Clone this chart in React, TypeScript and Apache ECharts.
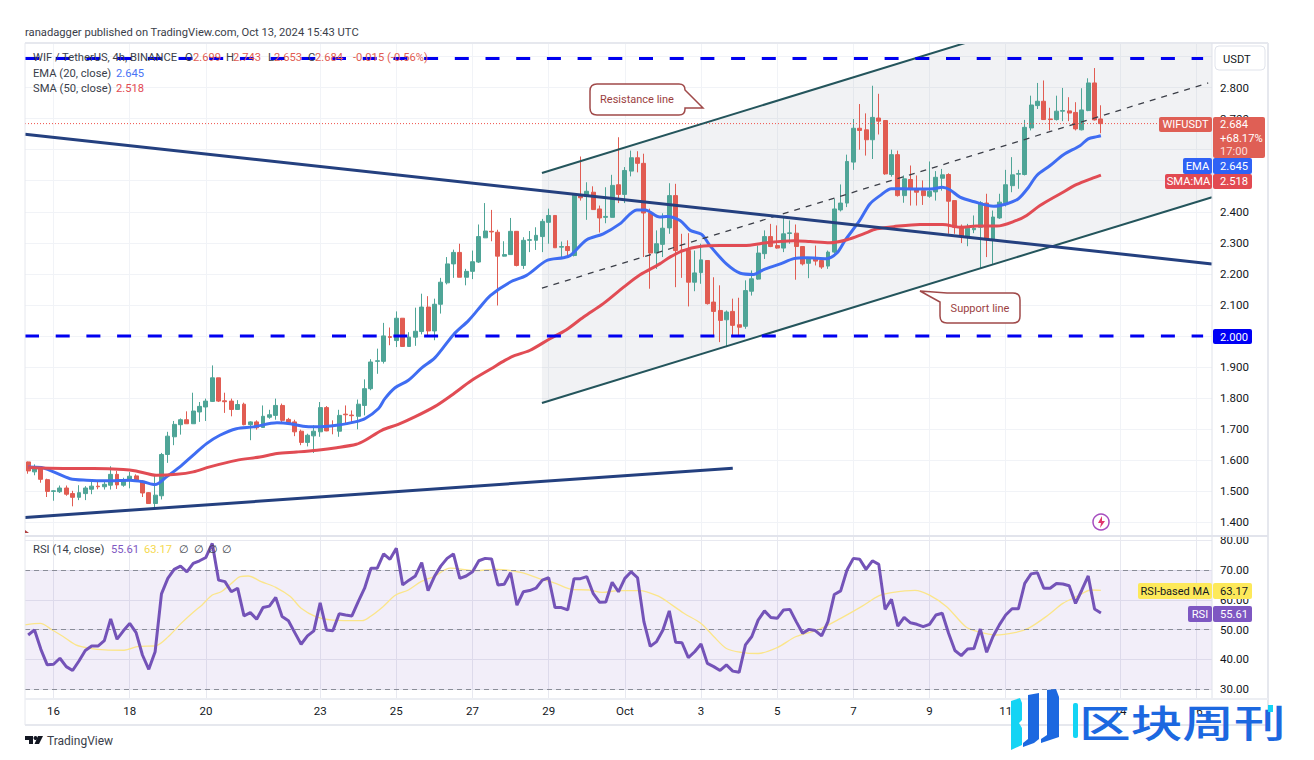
import React, { useEffect, useRef } from "react";
import * as echarts from "echarts";

const FONT = "Roboto, sans-serif";
const UP = "#4fa597";
const DOWN = "#e15c52";

const barCount = 187;
const tickBars = [4, 16, 28, 46, 58, 70, 82, 94, 106, 118, 130, 142, 154, 172, 184];
const tickLabels = ["16", "18", "20", "23", "25", "27", "29", "Oct", "3", "5", "7", "9", "11", "14", "16"];
const categories = Array.from({ length: barCount }, (_, i) => {
  const k = tickBars.indexOf(i);
  return k >= 0 ? tickLabels[k] : "";
});
const priceTicks = [1.4, 1.5, 1.6, 1.7, 1.8, 1.9, 2.0, 2.1, 2.2, 2.3, 2.4, 2.5, 2.6, 2.7, 2.8, 2.9];
const priceLabels = [1.4, 1.5, 1.6, 1.7, 1.8, 1.9, 2.0, 2.1, 2.2, 2.3, 2.4, 2.7, 2.8];
const rsiTicks = [30, 40, 50, 60, 70, 80];

const opens = [
  1.594, 1.562, 1.576, 1.537, 1.499, 1.498, 1.51, 1.492, 1.48, 1.492,
  1.506, 1.516, 1.514, 1.519, 1.554, 1.519, 1.535, 1.549, 1.532, 1.495,
  1.46, 1.485, 1.618, 1.675, 1.714, 1.73, 1.717, 1.755, 1.771, 1.789,
  1.865, 1.791, 1.79, 1.763, 1.78, 1.714, 1.723, 1.705, 1.738, 1.744,
  1.776, 1.731, 1.723, 1.693, 1.657, 1.678, 1.691, 1.769, 1.71, 1.693,
  1.748, 1.745, 1.741, 1.776, 1.83, 1.918, 1.918, 1.998, 1.985, 2.057,
  1.966, 1.996, 2.014, 2.093, 2.016, 2.102, 2.171, 2.232, 2.269, 2.189,
  2.208, 2.238, 2.316, 2.337, 2.334, 2.257, 2.262, 2.337, 2.227, 2.308,
  2.308, 2.32, 2.366, 2.388, 2.286, 2.288, 2.259, 2.452, 2.449, 2.463,
  2.409, 2.382, 2.382, 2.487, 2.456, 2.531, 2.574, 2.556, 2.397, 2.267,
  2.295, 2.348, 2.452, 2.277, 2.275, 2.173, 2.204, 2.243, 2.109, 2.082,
  2.052, 2.079, 2.036, 2.031, 2.144, 2.183, 2.265, 2.32, 2.291, 2.283,
  2.33, 2.331, 2.288, 2.234, 2.25, 2.243, 2.225, 2.27, 2.406, 2.428,
  2.56, 2.669, 2.664, 2.632, 2.702, 2.694, 2.52, 2.584, 2.452, 2.504,
  2.472, 2.468, 2.45, 2.464, 2.508, 2.52, 2.436, 2.353, 2.32, 2.342,
  2.35, 2.428, 2.312, 2.38, 2.429, 2.484, 2.521, 2.52, 2.67, 2.742,
  2.756, 2.699, 2.697, 2.724, 2.725, 2.72, 2.664, 2.726, 2.815, 2.699,
];
const closes = [
  1.565, 1.578, 1.538, 1.499, 1.501, 1.51, 1.49, 1.48, 1.495, 1.51,
  1.516, 1.514, 1.522, 1.554, 1.52, 1.535, 1.548, 1.532, 1.494, 1.46,
  1.487, 1.618, 1.677, 1.715, 1.73, 1.717, 1.758, 1.773, 1.79, 1.865,
  1.79, 1.788, 1.763, 1.779, 1.714, 1.723, 1.704, 1.741, 1.746, 1.776,
  1.728, 1.719, 1.691, 1.657, 1.68, 1.693, 1.769, 1.694, 1.708, 1.744,
  1.746, 1.743, 1.78, 1.83, 1.916, 1.92, 2.0, 1.995, 2.057, 1.966,
  1.996, 2.015, 2.093, 2.016, 2.102, 2.173, 2.232, 2.269, 2.189, 2.208,
  2.239, 2.32, 2.338, 2.335, 2.257, 2.262, 2.337, 2.227, 2.308, 2.31,
  2.324, 2.369, 2.388, 2.284, 2.288, 2.275, 2.456, 2.445, 2.466, 2.407,
  2.38, 2.385, 2.485, 2.456, 2.533, 2.574, 2.556, 2.396, 2.267, 2.297,
  2.347, 2.452, 2.275, 2.273, 2.173, 2.203, 2.245, 2.104, 2.079, 2.05,
  2.077, 2.034, 2.028, 2.146, 2.184, 2.267, 2.32, 2.288, 2.283, 2.329,
  2.332, 2.288, 2.232, 2.248, 2.241, 2.222, 2.27, 2.409, 2.428, 2.562,
  2.669, 2.662, 2.632, 2.704, 2.692, 2.522, 2.584, 2.452, 2.506, 2.472,
  2.463, 2.452, 2.466, 2.511, 2.519, 2.434, 2.35, 2.32, 2.347, 2.347,
  2.429, 2.31, 2.383, 2.431, 2.487, 2.519, 2.523, 2.672, 2.744, 2.756,
  2.697, 2.697, 2.724, 2.726, 2.718, 2.667, 2.728, 2.815, 2.696, 2.684,
];
const lows = [
  1.556, 1.551, 1.527, 1.481, 1.469, 1.494, 1.485, 1.451, 1.471, 1.471,
  1.49, 1.506, 1.505, 1.505, 1.507, 1.514, 1.509, 1.53, 1.481, 1.46,
  1.444, 1.473, 1.591, 1.648, 1.682, 1.717, 1.717, 1.723, 1.726, 1.787,
  1.787, 1.752, 1.741, 1.762, 1.712, 1.664, 1.698, 1.704, 1.733, 1.73,
  1.72, 1.715, 1.677, 1.648, 1.644, 1.623, 1.675, 1.693, 1.683, 1.675,
  1.714, 1.72, 1.699, 1.744, 1.825, 1.878, 1.911, 1.97, 1.964, 1.966,
  1.966, 1.968, 2.005, 2.002, 1.986, 2.072, 2.166, 2.187, 2.189, 2.163,
  2.183, 2.235, 2.316, 2.305, 2.098, 2.256, 2.262, 2.224, 2.216, 2.27,
  2.277, 2.27, 2.297, 2.284, 2.252, 2.256, 2.256, 2.436, 2.374, 2.406,
  2.333, 2.363, 2.382, 2.428, 2.428, 2.514, 2.527, 2.254, 2.152, 2.216,
  2.254, 2.329, 2.157, 2.187, 2.095, 2.144, 2.168, 2.101, 1.997, 1.98,
  1.964, 2.0, 2.002, 2.023, 2.13, 2.181, 2.248, 2.286, 2.281, 2.27,
  2.297, 2.181, 2.227, 2.186, 2.227, 2.216, 2.216, 2.265, 2.401, 2.415,
  2.535, 2.6, 2.581, 2.57, 2.649, 2.519, 2.513, 2.449, 2.429, 2.42,
  2.42, 2.422, 2.445, 2.436, 2.468, 2.329, 2.329, 2.299, 2.289, 2.331,
  2.216, 2.254, 2.232, 2.377, 2.417, 2.463, 2.474, 2.517, 2.662, 2.731,
  2.696, 2.662, 2.694, 2.692, 2.692, 2.662, 2.662, 2.724, 2.694, 2.653,
];
const highs = [
  1.595, 1.586, 1.578, 1.54, 1.503, 1.518, 1.518, 1.501, 1.519, 1.516,
  1.53, 1.53, 1.535, 1.58, 1.565, 1.543, 1.562, 1.554, 1.535, 1.497,
  1.551, 1.623, 1.691, 1.726, 1.734, 1.757, 1.817, 1.787, 1.798, 1.905,
  1.865, 1.817, 1.798, 1.793, 1.785, 1.725, 1.728, 1.776, 1.762, 1.798,
  1.782, 1.736, 1.73, 1.698, 1.685, 1.712, 1.787, 1.774, 1.728, 1.762,
  1.776, 1.76, 1.795, 1.86, 1.925, 1.959, 2.042, 2.027, 2.079, 2.057,
  2.012, 2.091, 2.136, 2.128, 2.12, 2.187, 2.254, 2.278, 2.297, 2.216,
  2.275, 2.359, 2.428, 2.406, 2.342, 2.305, 2.38, 2.338, 2.318, 2.338,
  2.35, 2.377, 2.41, 2.388, 2.304, 2.308, 2.456, 2.578, 2.495, 2.482,
  2.42, 2.479, 2.519, 2.64, 2.544, 2.597, 2.595, 2.587, 2.41, 2.34,
  2.395, 2.492, 2.49, 2.329, 2.331, 2.275, 2.297, 2.243, 2.189, 2.163,
  2.082, 2.12, 2.123, 2.179, 2.211, 2.291, 2.34, 2.361, 2.356, 2.385,
  2.372, 2.359, 2.288, 2.25, 2.291, 2.248, 2.275, 2.442, 2.488, 2.584,
  2.699, 2.747, 2.717, 2.806, 2.78, 2.694, 2.6, 2.597, 2.517, 2.549,
  2.517, 2.501, 2.562, 2.531, 2.538, 2.524, 2.436, 2.359, 2.361, 2.388,
  2.434, 2.458, 2.404, 2.458, 2.535, 2.576, 2.535, 2.696, 2.774, 2.815,
  2.823, 2.735, 2.774, 2.799, 2.769, 2.753, 2.798, 2.83, 2.863, 2.743,
];

const emaBars = [
  0, 2.1, 4, 6.6, 9.2, 12.4, 16, 18.1, 20, 21.8, 23.9, 26, 28.1, 30.2, 32.8, 35.5, 39.2, 41.3, 43.3, 45.2,
  48.6, 51.5, 53.1, 55.2, 56.2, 57.8, 59.9, 62, 64.1, 67, 69.4, 71, 72.8, 75.9, 78.5, 81.7, 84.3, 85.4, 88,
  90.6, 93.2, 95.9, 97.2, 99.5, 100.6, 102.7, 104.3, 106.1, 107.4, 110, 112.2, 114.3, 115.8, 118.5, 120.6,
  122.7, 125.8, 127.4, 128.7, 131, 132.6, 134.2, 136, 137.9, 140.5, 142.6, 144, 145.2, 146.8, 148.9, 152.1,
  154.2, 156, 157.6, 158.9, 161, 163.1, 165.7, 167, 168.4, 169,
];
const emaValues = [
  1.578, 1.576, 1.562, 1.54, 1.535, 1.533, 1.535, 1.53, 1.521, 1.546, 1.578, 1.616, 1.653, 1.68, 1.701, 1.707, 1.72, 1.717, 1.709, 1.707,
  1.712, 1.723, 1.734, 1.766, 1.798, 1.833, 1.857, 1.897, 1.93, 2.004, 2.05, 2.088, 2.13, 2.173, 2.195, 2.243, 2.252, 2.259, 2.31,
  2.329, 2.361, 2.406, 2.406, 2.383, 2.385, 2.372, 2.34, 2.327, 2.291, 2.232,
  2.202, 2.198, 2.213, 2.232, 2.249, 2.252, 2.249, 2.267, 2.308, 2.372, 2.425, 2.452, 2.474, 2.474, 2.473, 2.474, 2.479, 2.471, 2.447, 2.433, 2.418,
  2.426, 2.442, 2.479, 2.517, 2.549, 2.584, 2.613, 2.635, 2.642, 2.645,
];
const smaBars = [
  0, 5.5, 10.3, 15, 17, 20.2, 23.4, 26, 28.6, 32.8, 36.5, 39.2, 42.3, 45.5, 48.6, 51.7, 53.1, 55.7, 58.3, 60.9,
  64.1, 66.7, 69.9, 73, 75.1, 76.7, 79, 82.2, 84.8, 87.5, 90.6, 93.8, 96.4, 99.5, 101.1, 103.2, 105.8, 109,
  112.7, 116.9, 120.6, 123.2, 126.3, 129, 131.6, 133.7, 136.3, 140.5, 144.1, 146.8, 149.4, 152.6, 155.7,
  157.3, 159.4, 162.6, 165.2, 167.8, 169,
];
const smaValues = [
  1.576, 1.573, 1.573, 1.57, 1.565, 1.551, 1.554, 1.562, 1.578, 1.599, 1.61, 1.621, 1.626, 1.632, 1.64, 1.651, 1.664, 1.696, 1.715, 1.739,
  1.773, 1.809, 1.857, 1.895, 1.921, 1.937, 1.953, 1.991, 2.02, 2.061, 2.104, 2.157, 2.197, 2.232, 2.254, 2.275, 2.288, 2.291,
  2.291, 2.302, 2.307, 2.304, 2.3, 2.31, 2.329, 2.345, 2.352, 2.359, 2.359, 2.35, 2.354, 2.354, 2.372,
  2.388, 2.42, 2.458, 2.488, 2.509, 2.518,
];

const rsiValues = [
  48.2, 49.9, 43.4, 38.2, 38.4, 40.4, 37.6, 36.3, 39.5, 43,
  44.5, 44.5, 46.3, 53.6, 46.8, 49.6, 52.1, 49, 41.5, 36.7,
  42.6, 62, 67.2, 70.2, 71.3, 69.4, 72.2, 73.1, 74.2, 78.9,
  66.6, 66.1, 62.7, 63.9, 54.6, 55.7, 53.5, 57.4, 57.9, 60.8,
  54.4, 53, 49, 45.1, 47.9, 49.6, 59, 49.9, 49.6, 55.3,
  54.9, 54.6, 59.4, 63.9, 70.6, 70.6, 75.4, 73.6, 77.3, 65,
  66.6, 68, 72.5, 63.1, 67.8, 71.3, 73.9, 75.4, 67.2, 68,
  69.4, 73.1, 73.9, 73.7, 65, 65.2, 69.1, 58.2, 62.7, 63.1,
  63.9, 66.6, 67.4, 57.4, 57.4, 56.6, 67.1, 67.1, 67.8, 62.2,
  59.2, 59.3, 65.9, 62.7, 67.2, 69.4, 67.4, 52.7, 44.4, 46,
  49.9, 56.3, 45.8, 45.6, 40.6, 42.6, 45.2, 38.7, 37.6, 36.3,
  38.2, 36.1, 35.7, 44.9, 47.7, 53.2, 56.3, 54.1, 53.8, 56.6,
  56.8, 52.7, 48.8, 50.1, 49.7, 47.9, 52.7, 61.8, 63, 70,
  73.9, 73.6, 70.2, 73.1, 71.9, 56.8, 60.2, 51.2, 54.1, 52.3,
  51.8, 51, 51.8, 54.9, 55.5, 48.8, 43, 41.3, 43.5, 43.7,
  50.2, 42.4, 47.7, 51.6, 54.9, 57, 57, 65.5, 68.7, 69.1,
  63.9, 63.9, 65.5, 65.3, 64.7, 58.8, 63.3, 68, 56.9, 55.61,
];
const rsiMaBars = [
  -0.5, 1.9, 3.8, 5.5, 7.5, 9.8, 12.1, 15.1, 17.4, 20.1, 22.1, 24.1, 26.1, 27.4, 29, 30.4, 32, 33.4, 34.7, 36.7,
  39, 41.3, 43, 45.3, 47.9, 52.6, 53.9, 55.9, 57.9, 59.9, 61.9, 63.9, 66.5, 70.5, 73.8, 77.8, 80.4, 83.1, 85.7,
  88.4, 90.4, 93, 96.4, 99.5, 100.6, 103.3, 106, 108, 110, 112.3, 115, 118, 121, 124.6, 128, 131.4, 134, 136,
  139.7, 142, 144.7, 147.7, 149.7, 152.4, 155.4, 157.7, 160.7, 163, 165.4, 167.4, 169,
];
const rsiMaValues = [
  51.6, 52.1, 49.9, 47.7, 44.9, 43.7, 43.2, 43.1, 44.4, 44.6, 47.7, 52.1, 56, 58.3, 61.6, 62.7, 65.5, 67.8, 68, 66.1,
  64.2, 61.1, 57.2, 54.4, 53.2, 53, 54.4, 57.7, 61.6, 63.3, 66.1, 67.8, 70.6, 69.8, 70.2, 69.1, 67.2, 65.5, 63.5,
  63.3, 62.5, 63.1, 63.1, 61, 59.5, 55.5, 52.1, 47.7, 43.7, 42.4, 42, 44, 47.7, 50.1, 53.8, 57.9, 61.3, 62.4,
  63.2, 61.6, 57.7, 51, 49.3, 48.2, 49, 50.6, 54.9, 58.8, 61.3, 63.3, 63.17,
];

const channelUpper = [[80.94, 2.525], [186.5, 3.188]];
const channelLower = [[80.94, 1.784], [186.5, 2.447]];
const channelMiddle = [[80.94, 2.154], [185.9, 2.815]];
const wedgeUpper = [[-0.5, 2.65], [186.5, 2.232]];
const wedgeLower = [[-0.5, 1.415], [111, 1.574]];
const resistanceLevel = [[-0.5, 2.894], [185.1, 2.894]];
const supportLevel = [[-0.5, 2.0], [185.1, 2.0]];
const lastPriceLine = [[-0.5, 2.684], [186.5, 2.684]];

const pairs = (xs: number[], ys: number[]) => xs.map((x, i) => [x, ys[i]]);

echarts.graphic.registerShape(
  "calloutResistance",
  echarts.graphic.extendPath(
    "M597 84 H679 Q685 84 685 90 L703 108 H685 V109 Q685 115 679 115 H597 Q590 115 590 108 V91 Q590 84 597 84 Z",
    {}
  )
);
echarts.graphic.registerShape(
  "calloutSupport",
  echarts.graphic.extendPath(
    "M920 291 L947 293 H1013 Q1020 293 1020 300 V316 Q1020 323 1013 323 H947 Q940 323 940 316 V302 Z",
    {}
  )
);

function txt(text: string, x: number, y: number, fill: string, size = 11.2, align = "left", extra: any = {}) {
  return {
    type: "text",
    x,
    y,
    z: 100,
    silent: true,
    style: { text, fill, font: `${size}px ${FONT}`, textAlign: align, textVerticalAlign: "middle", ...extra },
  };
}
function box(x: number, y: number, w: number, h: number, fill: string, r = 0) {
  return { type: "rect", z: 90, silent: true, shape: { x, y, width: w, height: h, r }, style: { fill } };
}
function rule(x1: number, y1: number, x2: number, y2: number, width = 1, stroke = "#e6e8ee") {
  return { type: "line", z: 80, silent: true, shape: { x1, y1, x2, y2 }, style: { stroke, lineWidth: width } };
}
function poly(points: number[][], fill: string) {
  return { type: "polygon", z: 120, silent: true, shape: { points }, style: { fill } };
}

function trend(data: number[][], color: string, width: number, type: any = "solid", smooth: any = false) {
  return {
    type: "line",
    xAxisIndex: 1,
    yAxisIndex: 0,
    data,
    symbol: "none",
    silent: true,
    smooth,
    lineStyle: { color, width, type },
    z: 6,
  };
}

const graphics: any[] = [
  txt("ranadagger published on TradingView.com, Oct 13, 2024 15:43 UTC", 25, 32, "#3a3e4a"),
  rule(25, 43, 1268, 43, 2),
  rule(25, 43, 25, 725, 1),
  rule(1268, 43, 1268, 725, 2),
  rule(25, 725, 1268, 725, 2),
  rule(1212, 43, 1212, 698, 1, "#dfe2ea"),
  rule(25, 536, 1268, 536, 2, "#e2e4ec"),
  rule(25, 699, 1268, 699, 2, "#eceef3"),

  txt("WIF / TetherUS, 4h, BINANCE", 33, 57, "#3a3e4a"),
  txt("O", 185, 57, "#3a3e4a"),
  txt("2.699", 193, 57, DOWN),
  txt("H", 226, 57, "#3a3e4a"),
  txt("2.743", 233, 57, DOWN),
  txt("L", 268, 57, "#3a3e4a"),
  txt("2.653", 274, 57, DOWN),
  txt("C", 308, 57, "#3a3e4a"),
  txt("2.684", 315, 57, DOWN),
  txt("-0.015 (-0.56%)", 353, 57, DOWN),
  txt("EMA (20, close)", 33, 73, "#3a3e4a"),
  txt("2.645", 116, 73, "#4a74f5"),
  txt("SMA (50, close)", 33, 88, "#3a3e4a"),
  txt("2.518", 116, 88, "#e24a52"),

  { type: "calloutResistance", x: 0, y: 0, z: 85, silent: true, style: { fill: "#fff", stroke: "#a04a4a", lineWidth: 1.5 } },
  txt("Resistance line", 637, 99, "#9b3f3f", 11, "center"),
  { type: "calloutSupport", x: 0, y: 0, z: 85, silent: true, style: { fill: "#fff", stroke: "#a04a4a", lineWidth: 1.5 } },
  txt("Support line", 980, 308, "#9b3f3f", 11, "center"),

  { type: "circle", z: 85, silent: true, shape: { cx: 1101, cy: 522, r: 8 }, style: { fill: "#fff", stroke: "#a64dc0", lineWidth: 1.5 } },
  { type: "polygon", z: 86, silent: true, shape: { points: [[1102, 516], [1098, 523], [1101, 523], [1100, 528], [1105, 521], [1102, 521]] }, style: { fill: "#e0386f" } },
  { type: "polygon", z: 86, silent: true, shape: { points: [[25, 530], [29, 533], [25, 533]] }, style: { fill: "#b04040" } },

  { type: "rect", z: 90, silent: true, shape: { x: 1215, y: 46, width: 50, height: 24, r: 4 }, style: { fill: "#fff", stroke: "#e0e3eb", lineWidth: 1 } },
  txt("USDT", 1223, 59, "#131722"),

  box(1159, 117, 53, 15, "#df5f55", 2),
  txt("WIFUSDT", 1185.5, 124.5, "#fff", 11, "center"),
  box(1213, 117, 52, 41, "#df5f55", 2),
  txt("2.684", 1220, 124.5, "#fff"),
  txt("+68.17%", 1220, 138, "#fff"),
  txt("17:00", 1220, 151, "#fbdcd9"),
  box(1183, 158, 29, 16, "#2f62f5", 2),
  txt("EMA", 1197.5, 166, "#fff", 11.2, "center"),
  box(1213, 158, 39, 16, "#2f62f5", 2),
  txt("2.645", 1220, 166, "#fff"),
  box(1165, 174, 47, 15, "#e24a52", 2),
  txt("SMA:MA", 1188.5, 181.5, "#fff", 11.2, "center"),
  box(1213, 174, 39, 15, "#e24a52", 2),
  txt("2.518", 1220, 181.5, "#fff"),
  box(1213, 329, 39, 15, "#0000f5", 2),
  txt("2.000", 1220, 337, "#fff"),

  txt("RSI (14, close)", 33, 549, "#3a3e4a"),
  txt("55.61", 111, 549, "#7e57c2"),
  txt("63.17", 144, 549, "#f5d94e"),
  txt("∅", 179, 549, "#3a3e4a"),
  txt("∅", 194, 549, "#3a3e4a"),
  txt("∅", 208, 549, "#3a3e4a"),
  txt("∅", 222, 549, "#3a3e4a"),

  box(1138, 583, 74, 16, "#fde95a", 2),
  txt("RSI-based MA", 1175, 591, "#131722", 11, "center"),
  box(1213, 583, 39, 16, "#fde95a", 2),
  txt("63.17", 1220, 591, "#131722"),
  box(1188, 606, 24, 16, "#7e57c2", 2),
  txt("RSI", 1200, 614, "#fff", 11.2, "center"),
  box(1213, 606, 39, 16, "#7e57c2", 2),
  txt("55.61", 1220, 614, "#fff"),

  poly([[25, 736], [33, 736], [33, 744], [29, 744], [29, 740], [25, 740]], "#131722"),
  { type: "circle", z: 120, silent: true, shape: { cx: 35.5, cy: 738, r: 2 }, style: { fill: "#131722" } },
  poly([[38, 736], [43, 736], [39, 744], [34.5, 744]], "#131722"),
  txt("TradingView", 47, 741, "#3a3e4a", 12),

  poly([[1011, 701], [1020, 698], [1022, 703], [1022, 720], [1019, 723], [1022, 728], [1022, 745], [1011, 750]], "#14d4f4"),
  poly([[1028, 695], [1039, 693], [1039, 739], [1034, 743], [1023, 747], [1023, 743], [1028, 739]], "#1c68e0"),
  poly([[1047, 690], [1056, 689], [1059, 697], [1059, 737], [1041, 743], [1041, 739], [1047, 735]], "#1c68e0"),
  { type: "rect", z: 120, silent: true, shape: { x: 1073, y: 703, width: 5, height: 35, r: 2 }, style: { fill: "#14d4f4" } },
  {
    type: "text",
    z: 120,
    silent: true,
    x: 1079,
    y: 720,
    scaleX: 1.36,
    style: { text: "区块周刊", fill: "#1c68e0", font: `500 38px "Noto Sans CJK SC"`, textAlign: "left", textVerticalAlign: "middle" },
  },
  { type: "rect", z: 121, silent: true, shape: { x: 1268, y: 705, width: 5, height: 7 }, style: { fill: "#14d4f4" } },
];

export default function App() {
  const ref = useRef<HTMLDivElement>(null);
  useEffect(() => {
    const chart = echarts.init(ref.current!, null, { renderer: "svg" });
    const isTick = (i: number) => tickBars.indexOf(i) >= 0;
    const channelPoly = [channelUpper[0], channelUpper[1], channelLower[1], channelLower[0]];
    chart.setOption({
      animation: false,
      backgroundColor: "#fff",
      textStyle: { fontFamily: FONT },
      grid: [
        { left: 25, top: 43, width: 1187, height: 492 },
        { left: 25, top: 537, width: 1187, height: 161 },
      ],
      xAxis: [
        {
          type: "category",
          gridIndex: 0,
          data: categories,
          axisLine: { show: false },
          axisTick: { show: false, alignWithLabel: true, interval: (i: number) => isTick(i) },
          axisLabel: { show: false },
          splitLine: { show: true, alignWithLabel: true, interval: (i: number) => isTick(i), lineStyle: { color: "#f1f3f7", width: 1 } },
        },
        { type: "value", gridIndex: 0, min: -0.5, max: barCount - 0.5, show: false, splitLine: { show: false } },
        {
          type: "category",
          gridIndex: 1,
          data: categories,
          axisLine: { show: false },
          axisTick: { show: false, alignWithLabel: true, interval: (i: number) => isTick(i) },
          axisLabel: { show: true, interval: (i: number) => isTick(i), color: "#131722", fontSize: 11.5, margin: 7, fontFamily: FONT },
          splitLine: { show: true, alignWithLabel: true, interval: (i: number) => isTick(i), lineStyle: { color: "#e8e9f0", width: 1 } },
        },
        { type: "value", gridIndex: 1, min: -0.5, max: barCount - 0.5, show: false, splitLine: { show: false } },
      ],
      yAxis: [
        {
          type: "value",
          gridIndex: 0,
          position: "right",
          min: 1.3586,
          max: 2.9437,
          axisLine: { show: false },
          axisTick: { show: false, customValues: priceTicks },
          axisLabel: { customValues: priceLabels, color: "#131722", fontSize: 11.5, margin: 8, fontFamily: FONT, formatter: (v: number) => v.toFixed(3) },
          splitLine: { show: true, lineStyle: { color: "#f1f3f7", width: 1 } },
        },
        {
          type: "value",
          gridIndex: 1,
          position: "right",
          min: 27.08,
          max: 81.07,
          axisLine: { show: false },
          axisTick: { show: false, customValues: rsiTicks },
          axisLabel: { customValues: rsiTicks, color: "#131722", fontSize: 11.5, margin: 8, fontFamily: FONT, formatter: (v: number) => v.toFixed(2) },
          splitLine: { show: true, lineStyle: { color: "#e8e9f0", width: 1 } },
        },
      ],
      series: [
        {
          type: "custom",
          xAxisIndex: 1,
          yAxisIndex: 0,
          clip: true,
          silent: true,
          z: 1,
          data: channelPoly,
          renderItem: (params: any, api: any) => {
            if (params.dataIndex !== 0) return { type: "group", children: [] };
            return {
              type: "polygon",
              shape: { points: channelPoly.map((p) => api.coord(p)) },
              style: { fill: "rgba(120,125,145,0.1)" },
            };
          },
        },
        {
          type: "candlestick",
          xAxisIndex: 0,
          yAxisIndex: 0,
          barWidth: 4.4,
          z: 3,
          silent: true,
          data: opens.map((o, i) => [o, closes[i], lows[i], highs[i]]),
          itemStyle: { color: UP, color0: DOWN, borderColor: UP, borderColor0: DOWN, borderWidth: 1 },
        },
        trend(lastPriceLine, "#f0524a", 1, [1, 2]),
        trend(pairs(emaBars, emaValues), "#3f6df2", 3, "solid", 0.3),
        trend(pairs(smaBars, smaValues), "#e14c54", 3, "solid", 0.3),
        trend(channelUpper, "#24555c", 2),
        trend(channelLower, "#24555c", 2),
        trend(channelMiddle, "#3c3f48", 1.3, [6, 6]),
        trend(wedgeUpper, "#24407f", 3),
        trend(wedgeLower, "#24407f", 3),
        trend(resistanceLevel, "#0000f0", 3, [14, 16.7]),
        trend(supportLevel, "#0000f0", 3, [14, 16.7]),
        {
          type: "line",
          xAxisIndex: 2,
          yAxisIndex: 1,
          data: rsiValues,
          symbol: "none",
          silent: true,
          z: 5,
          lineStyle: { color: "#7453b8", width: 3 },
          markArea: {
            silent: true,
            itemStyle: { color: "rgba(126,87,194,0.1)" },
            data: [[{ yAxis: 70 }, { yAxis: 30 }]],
          },
          markLine: {
            silent: true,
            symbol: "none",
            label: { show: false },
            lineStyle: { color: "#8a8d98", type: [5, 4], width: 1 },
            data: [{ yAxis: 70 }, { yAxis: 50 }, { yAxis: 30 }],
          },
        },
        {
          type: "line",
          xAxisIndex: 3,
          yAxisIndex: 1,
          data: pairs(rsiMaBars, rsiMaValues),
          symbol: "none",
          silent: true,
          smooth: 0.3,
          z: 4,
          lineStyle: { color: "#fbe58a", width: 1.3 },
        },
      ],
      graphic: graphics,
    });
    return () => chart.dispose();
  }, []);
  return <div ref={ref} style={{ position: "absolute", left: 0, top: 0, width: 1314, height: 760, background: "#fff" }} />;
}
